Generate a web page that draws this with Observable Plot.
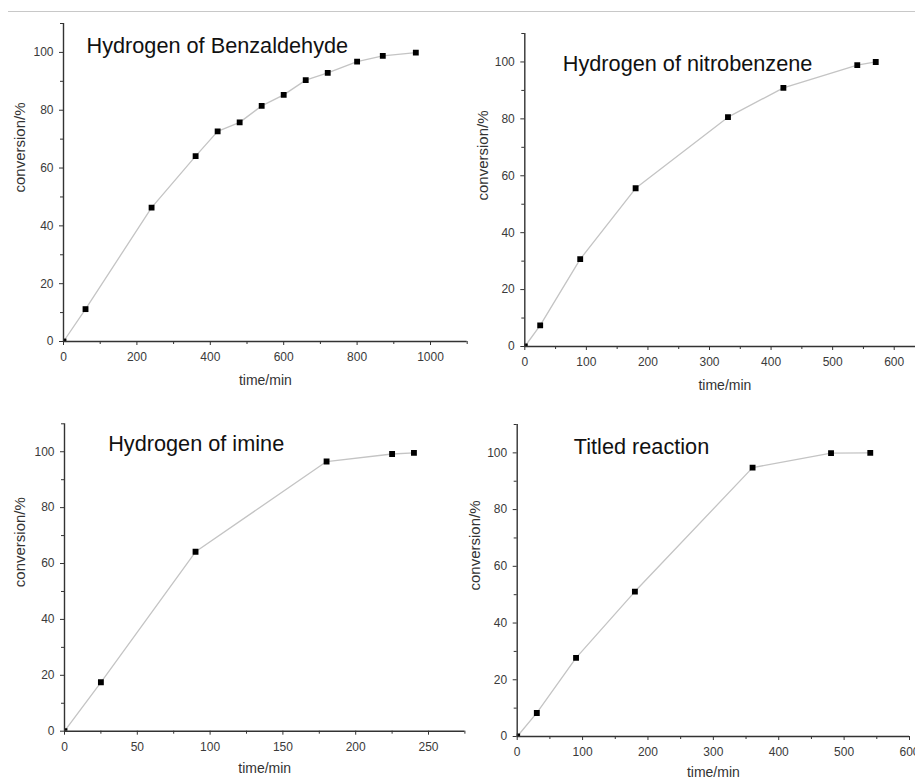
<!DOCTYPE html>
<html>
<head>
<meta charset="utf-8">
<script src="https://cdn.jsdelivr.net/npm/d3@7"></script>
<script src="https://cdn.jsdelivr.net/npm/@observablehq/plot@0.6"></script>
<style>
  html, body { margin: 0; padding: 0; overflow: hidden; background: #fff; }
  #chart { position: relative; width: 915px; height: 781px; overflow: hidden; background: #fff;
           font-family: "Liberation Sans", Arial, sans-serif; }
  .sep { position: absolute; left: 8px; top: 11px; width: 907px; height: 0; border-top: 1px solid #c8c8c8; }
  .panel { position: absolute; }
  .panel svg { max-width: none; overflow: visible; }
</style>
</head>
<body>
<div id="chart"><div class="sep"></div></div>
<script>
// ---- Data ----
const benzTime = [0, 60, 240, 360, 420, 480, 540, 600, 660, 720, 800, 870, 960];
const benzConv = [0, 11.2, 46.3, 64.1, 72.7, 75.8, 81.5, 85.3, 90.4, 92.9, 96.8, 98.8, 99.9];

const nitroTime = [0, 25, 90, 180, 330, 420, 540, 570];
const nitroConv = [0, 7.4, 30.7, 55.6, 80.6, 90.9, 98.9, 100];

const imineTime = [0, 25, 90, 180, 225, 240];
const imineConv = [0, 17.5, 64.2, 96.5, 99.2, 99.6];

const titledTime = [0, 30, 90, 180, 360, 480, 540];
const titledConv = [0, 8.3, 27.7, 51.1, 94.8, 99.9, 100];

// ---- Tick labels ----
const yTicks = [0, 20, 40, 60, 80, 100];
const yMinor = [10, 30, 50, 70, 90, 110];
const benzXTicks = [0, 200, 400, 600, 800, 1000];
const benzXMinor = [100, 300, 500, 700, 900, 1100];
const nitroXTicks = [0, 100, 200, 300, 400, 500, 600];
const nitroXMinor = [50, 150, 250, 350, 450, 550, 650];
const imineXTicks = [0, 50, 100, 150, 200, 250];
const imineXMinor = [25, 75, 125, 175, 225, 275];
const titledXTicks = [0, 100, 200, 300, 400, 500, 600];
const titledXMinor = [50, 150, 250, 350, 450, 550];

const titles = ["Hydrogen of Benzaldehyde", "Hydrogen of nitrobenzene", "Hydrogen of imine", "Titled reaction"];
const xLabel = "time/min";
const yLabel = "conversion/%";

const AX = "#333";
const FONT = "'Liberation Sans', Arial, sans-serif";

function panel(cfg) {
  const rows = cfg.time.map((t, i) => ({t, c: cfg.conv[i]}));
  const svg = Plot.plot({
    width: cfg.width,
    height: cfg.height,
    marginLeft: cfg.m[0],
    marginRight: cfg.m[1],
    marginTop: cfg.m[2],
    marginBottom: cfg.m[3],
    style: {fontFamily: FONT, background: "transparent", overflow: "visible"},
    x: {domain: cfg.xDomain},
    y: {domain: [0, 110]},
    marks: [
      Plot.line(rows, {x: "t", y: "c", stroke: "#c4c4c4", strokeWidth: 1.3}),
      Plot.dot(rows, {x: "t", y: "c", symbol: "square", r: 3.3, fill: "#000", stroke: "none", clip: true}),
      Plot.ruleY([0], {stroke: AX, strokeWidth: 1.4}),
      Plot.ruleX([0], {stroke: AX, strokeWidth: 1.4}),
      Plot.axisX({ticks: cfg.xTicks, tickSize: 4, tickPadding: 7, tickFormat: d => String(d),
                  fontSize: 12, stroke: AX, fill: "#3a3a3a", label: null}),
      Plot.axisX({ticks: cfg.xMinor, tickSize: 3, stroke: AX, fill: "none", label: null}),
      Plot.axisY({ticks: yTicks, tickSize: 4, tickPadding: 6, tickFormat: d => String(d),
                  fontSize: 12, stroke: AX, fill: "#3a3a3a", label: null}),
      Plot.axisY({ticks: yMinor, tickSize: 3, stroke: AX, fill: "none", label: null}),
      Plot.text([cfg.title], {text: d => d, frameAnchor: "top-left", dx: cfg.titleDx, dy: cfg.titleDy,
                  textAnchor: "start", lineAnchor: "bottom", fontSize: 21.7, fill: "#111"}),
      Plot.text([xLabel], {text: d => d, frameAnchor: "bottom", dy: cfg.xLabelDy,
                  lineAnchor: "middle", fontSize: 14, fill: "#333"}),
      Plot.text([yLabel], {text: d => d, frameAnchor: "left", dx: cfg.yLabelDx, dy: cfg.yLabelDy,
                  rotate: -90, lineAnchor: "middle", fontSize: 15, fill: "#333"})
    ]
  });
  const holder = document.createElement("div");
  holder.className = "panel";
  holder.style.left = cfg.left + "px";
  holder.style.top = cfg.top + "px";
  holder.appendChild(svg);
  document.getElementById("chart").appendChild(holder);
}

panel({time: benzTime, conv: benzConv, xDomain: [0, 1100], xTicks: benzXTicks, xMinor: benzXMinor,
       title: titles[0], left: 0, top: 0, width: 470, height: 390, m: [63, 3.3, 23, 49],
       titleDx: 23, titleDy: 29.5, xLabelDy: 39, yLabelDx: -43, yLabelDy: 10});
panel({time: nitroTime, conv: nitroConv, xDomain: [0, 650], xTicks: nitroXTicks, xMinor: nitroXMinor,
       title: titles[1], left: 455, top: 0, width: 460, height: 400, m: [69.3, -9.5, 33, 54],
       titleDx: 38, titleDy: 37, xLabelDy: 39, yLabelDx: -42, yLabelDy: 10.5});
panel({time: imineTime, conv: imineConv, xDomain: [0, 275], xTicks: imineXTicks, xMinor: imineXMinor,
       title: titles[2], left: 0, top: 400, width: 470, height: 381, m: [64, 5.6, 23.3, 50.3],
       titleDx: 43.7, titleDy: 26.7, xLabelDy: 37.6, yLabelDx: -44, yLabelDy: 9.7});
panel({time: titledTime, conv: titledConv, xDomain: [0, 600], xTicks: titledXTicks, xMinor: titledXMinor,
       title: titles[3], left: 455, top: 400, width: 460, height: 381, m: [61.7, 6, 24, 45],
       titleDx: 56.6, titleDy: 29.3, xLabelDy: 36.5, yLabelDx: -42, yLabelDy: 10});
</script>
</body>
</html>
